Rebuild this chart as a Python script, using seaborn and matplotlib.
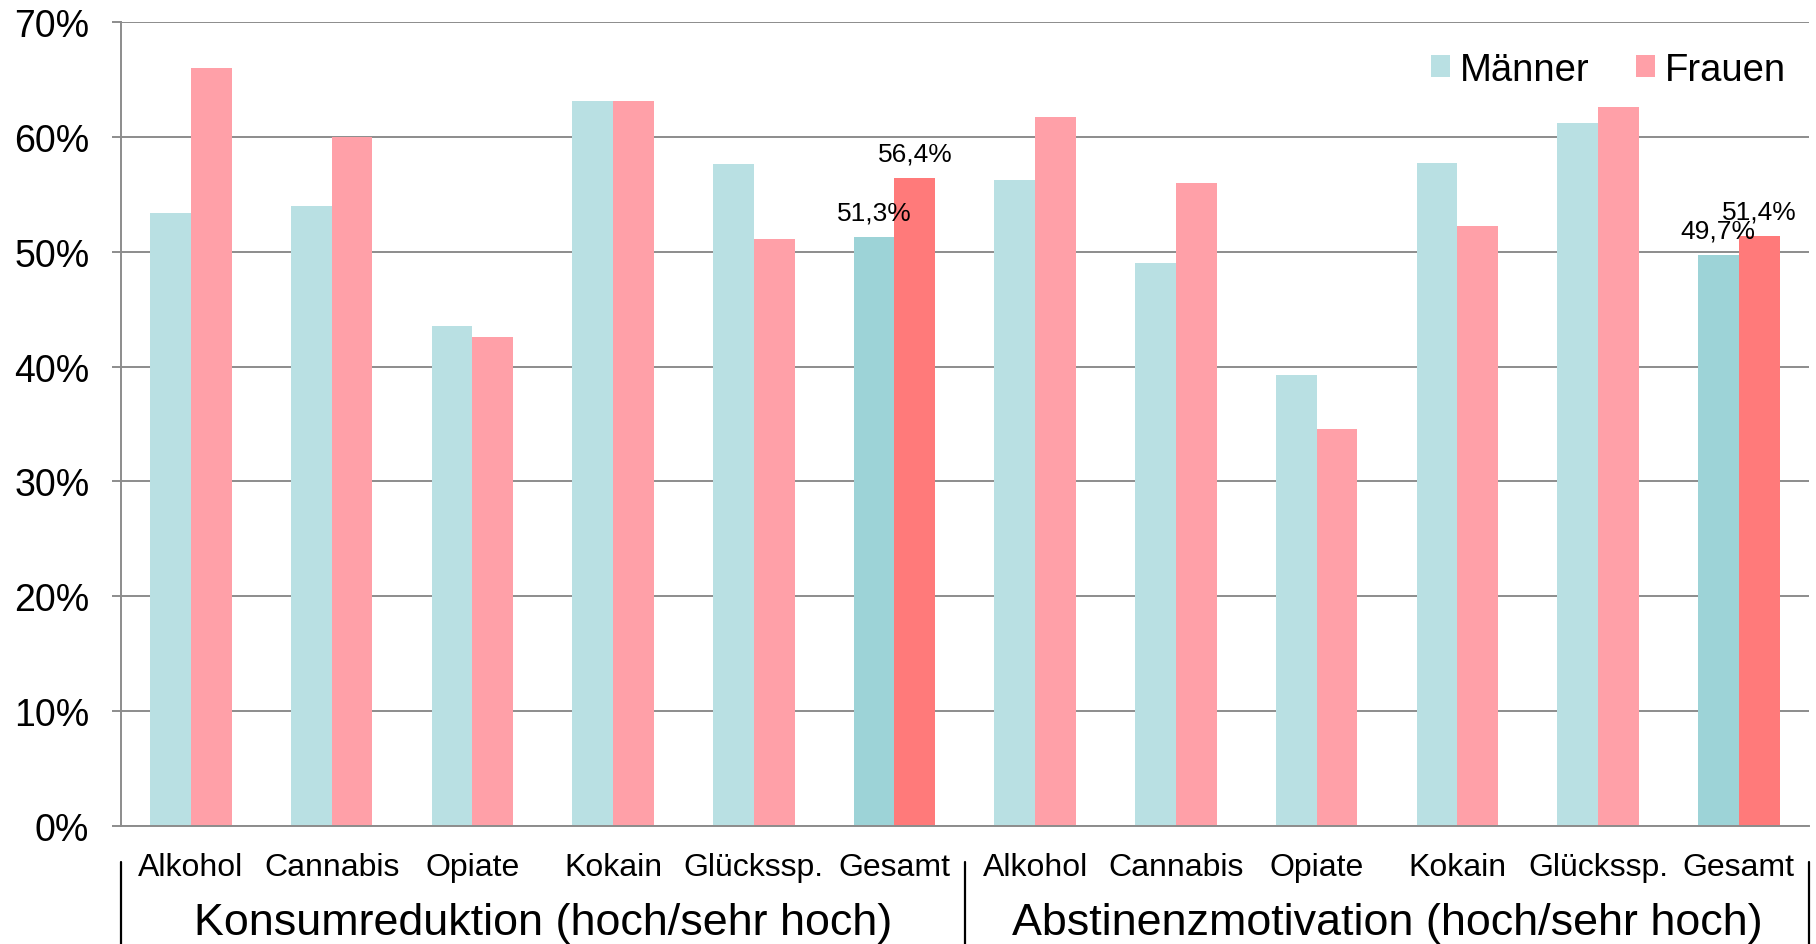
import matplotlib
matplotlib.use("Agg")
import matplotlib.pyplot as plt
import matplotlib.transforms as mtransforms
import seaborn as sns
import pandas as pd

# ---- data ----
groups = ["Konsumreduktion (hoch/sehr hoch)", "Abstinenzmotivation (hoch/sehr hoch)"]
categories = ["Alkohol", "Cannabis", "Opiate", "Kokain", "Glücksspiel".replace("spiel", "sp."), "Gesamt"]
maenner_konsum = [53.4, 54.0, 43.5, 63.1, 57.6, 51.3]
frauen_konsum = [66.0, 60.0, 42.6, 63.1, 51.1, 56.4]
maenner_abst = [56.2, 49.0, 39.3, 57.7, 61.2, 49.7]
frauen_abst = [61.7, 56.0, 34.6, 52.2, 62.6, 51.4]
series_names = ["Männer", "Frauen"]
yticks = [0, 10, 20, 30, 40, 50, 60, 70]

sns.set_theme(style="white")
plt.rcParams["font.family"] = ["Liberation Sans", "DejaVu Sans"]
plt.rcParams["text.color"] = "black"
plt.rcParams["xtick.labelcolor"] = "black"
plt.rcParams["ytick.labelcolor"] = "black"

keys = [f"K{i}" for i in range(6)] + [f"A{i}" for i in range(6)]
labels = categories + categories
rows = []
for k, m, f in zip(keys, maenner_konsum + maenner_abst, frauen_konsum + frauen_abst):
    rows.append({"key": k, "Geschlecht": series_names[0], "wert": m})
    rows.append({"key": k, "Geschlecht": series_names[1], "wert": f})
df = pd.DataFrame(rows)

c_m, c_f = "#b9e0e3", "#ffa0a8"
c_m_tot, c_f_tot = "#9dd3d7", "#ff7a7a"

fig = plt.figure(figsize=(18.16, 9.45), dpi=100)
ax = fig.add_axes([0.0664, 0.1249, 0.9298, 0.8508])

sns.barplot(data=df, x="key", y="wert", hue="Geschlecht", order=keys,
            hue_order=series_names, palette=[c_m, c_f], width=0.58,
            saturation=1, ax=ax, legend=True, errorbar=None, linewidth=0)

# recolor totals and add labels
for ci, (cont, col) in enumerate(zip(ax.containers, [c_m_tot, c_f_tot])):
    for idx in (5, 11):
        bar = cont[idx]
        bar.set_facecolor(col)
        h = bar.get_height()
        ax.annotate(f"{h:.1f}%".replace(".", ","),
                    (bar.get_x() + bar.get_width() / 2, h),
                    xytext=(0, 9), textcoords="offset points",
                    ha="center", va="bottom", fontsize=19, color="black")

ax.set_xlim(-0.5, 11.5)
ax.set_ylim(0, 70)
ax.set_yticks(yticks)
ax.set_yticklabels([f"{v}%" for v in yticks])
ax.set_xticks(range(12))
ax.set_xticklabels(labels)
ax.set_xticks([i - 0.5 for i in range(13)], minor=True)
ax.tick_params(axis="x", which="major", length=0, pad=19, labelsize=23, labelcolor="black")
ax.tick_params(axis="x", which="minor", length=5, width=1.4, color="#8c8c8c", direction="out")
ax.tick_params(axis="y", length=6.5, width=1.4, color="#8c8c8c", pad=16, labelsize=27,
               labelcolor="black", left=True)
ax.set_xlabel("")
ax.set_ylabel("")

ax.yaxis.grid(True, color="#8c8c8c", linewidth=1.4)
ax.set_axisbelow(True)
for s in ["top", "right"]:
    ax.spines[s].set_visible(False)
for s in ["left", "bottom"]:
    ax.spines[s].set_color("#8c8c8c")
    ax.spines[s].set_linewidth(1.4)

trans = mtransforms.blended_transform_factory(ax.transData, ax.transAxes)
for xs in (-0.5, 5.5, 11.5):
    ax.plot([xs, xs], [-0.045, -0.15], transform=trans, color="black",
            linewidth=1.6, clip_on=False)
ax.text(2.5, -0.1205, groups[0], transform=trans, ha="center", va="center",
        fontsize=32.3, color="black")
ax.text(8.5, -0.1205, groups[1], transform=trans, ha="center", va="center",
        fontsize=32.3, color="black")

leg = ax.legend(loc="center right", bbox_to_anchor=(0.9835, 0.925),
                bbox_transform=fig.transFigure, ncol=2, frameon=False,
                fontsize=27.5, handlelength=0.5, handleheight=0.5,
                handletextpad=0.25, columnspacing=1.22, borderpad=0,
                borderaxespad=0, title=None)
for t in leg.get_texts():
    t.set_color("black")

fig.savefig("out.png", dpi=100)
